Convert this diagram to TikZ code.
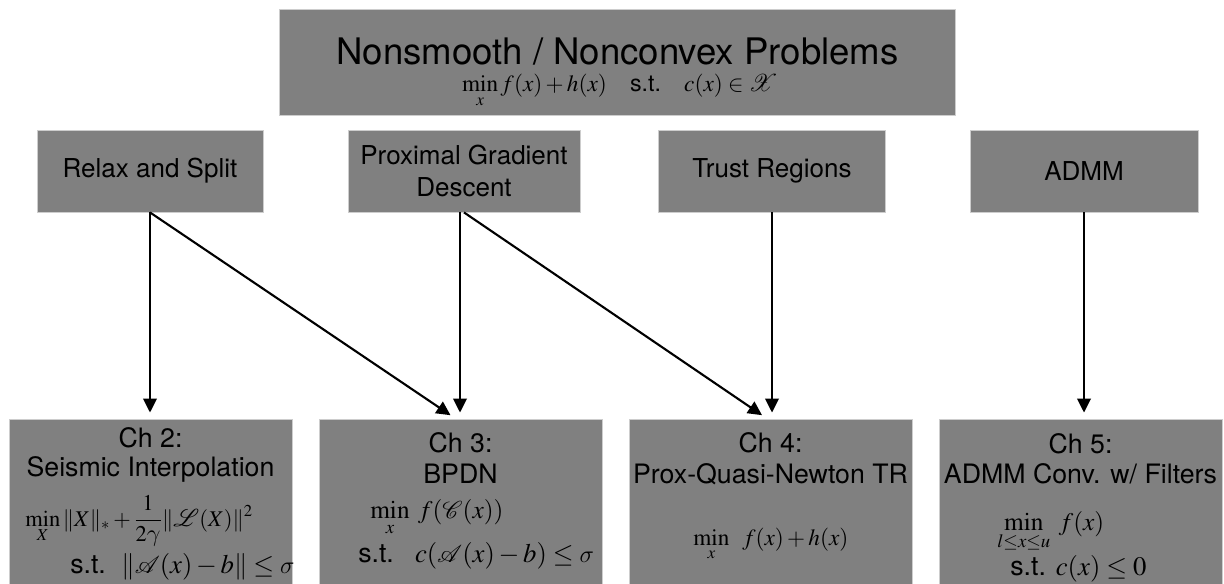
\documentclass[tikz,border=0pt]{standalone}
\usepackage{amsmath}
\usepackage{mathptmx}
\usepackage{mathrsfs}
\usepackage[no-math]{fontspec}
\setmainfont{TeX Gyre Heros}
\usepackage{tikz}
\usetikzlibrary{arrows.meta,positioning,calc}
\definecolor{boxgray}{RGB}{128,128,128}
\definecolor{edgegray}{RGB}{205,205,205}
\DeclareSymbolFont{cmgreek}{OML}{cmm}{m}{it}
\DeclareMathSymbol{\sigma}{\mathord}{cmgreek}{"1B}
\DeclareMathSymbol{\gamma}{\mathord}{cmgreek}{"0D}

\begin{document}
\begin{tikzpicture}[x=0.025cm, y=-0.025cm,
        box/.style={rectangle, draw=edgegray, line width=0.6pt, fill=boxgray, inner sep=0pt},
        topbox/.style={box, minimum width=16.875cm, minimum height=2.65cm},
        midbox/.style={box, minimum height=2.05cm, align=center, font=\fontsize{18.5}{23}\selectfont},
        chbox/.style={box, minimum width=7.075cm, minimum height=4.125cm},
        chtext/.style={anchor=base, inner sep=0pt, font=\fontsize{19}{22}\selectfont},
        eq/.style={anchor=base west, inner sep=0pt, font=\fontsize{18}{21}\selectfont},
        arrow/.style={-{Triangle[length=0.35cm,width=0.34cm]}, line width=1.5pt, shorten >=0.15cm}]

        \useasboundingbox (0,0) rectangle (1224,584);

        % top problem
        \node[topbox] (top) at (617.5,62) {};
        \node[anchor=base, inner sep=0pt, font=\fontsize{26}{30}\selectfont] (toptitle) at (617.5,65) {Nonsmooth / Nonconvex Problems};
        \node[anchor=base, inner sep=0pt, font=\fontsize{16.5}{20}\selectfont] (topeq) at (620,92)
            {$\displaystyle\min_x f(x)+h(x)\quad\text{s.t.}\quad c(x)\in\mathscr{X}$};

        % methods
        \node[midbox, minimum width=5.65cm] (relax) at (150,171) {Relax and Split};
        \node[midbox, minimum width=5.8cm] (prox) at (464,171) {Proximal Gradient\\Descent};
        \node[midbox, minimum width=5.675cm] (trust) at (772,171) {Trust Regions};
        \node[midbox, minimum width=5.7cm] (admm) at (1084,171) {ADMM};

        % chapters
        \node[chbox] (ch2) at (150.5,501.5) {};
        \node[chbox] (ch3) at (460.5,501.5) {};
        \node[chbox] (ch4) at (770.5,501.5) {};
        \node[chbox] (ch5) at (1080.5,501.5) {};

        \node[chtext] (ch2a) at (150.5,447) {Ch 2:};
        \node[chtext] (ch2b) at (150.5,476) {Seismic Interpolation};
        \node[eq, font=\fontsize{16}{19}\selectfont] (ch2min) at (25,526) {$\displaystyle\min_X \|X\|_* + \frac{1}{2\gamma}\|\mathscr{L}(X)\|^2$};
        \node[eq, font=\fontsize{17}{20}\selectfont] (ch2st) at (70,573) {\fontsize{19}{22}\selectfont s.t.\hspace{11pt}$\|\mathscr{A}(x)-b\|\le\sigma$};

        \node[chtext] (ch3a) at (460.5,452) {Ch 3:};
        \node[chtext] (ch3b) at (460.5,483) {BPDN};
        \node[eq] (ch3min) at (370,518) {$\displaystyle\min_x\; f(\mathscr{C}(x))$};
        \node[eq] (ch3st) at (358,562) {\fontsize{19}{22}\selectfont s.t.\hspace{15pt}$c(\mathscr{A}(x)-b)\le\sigma$};

        \node[chtext] (ch4a) at (770.5,452) {Ch 4:};
        \node[chtext] (ch4b) at (770.5,483) {Prox-Quasi-Newton TR};
        \node[eq, font=\fontsize{16.5}{20}\selectfont] (ch4min) at (693,545) {$\displaystyle\min_x\;\; f(x)+h(x)$};

        \node[chtext] (ch5a) at (1080.5,453) {Ch 5:};
        \node[chtext] (ch5b) at (1080.5,483) {ADMM Conv. w/ Filters};
        \node[eq] (ch5min) at (997,530) {$\displaystyle\min_{l\le x\le u}\; f(x)$};
        \node[eq] (ch5st) at (1010,575) {\fontsize{19}{22}\selectfont s.t. $c(x)\le 0$};

        \draw[arrow] (relax.south) -- (relax.south |- ch2.north);
        \draw[arrow] (relax.south) -- ($(ch3.north)+(-5,0)$);
        \draw[arrow] ($(prox.south)+(-4,0)$) -- ($(ch3.north)+(-0.5,0)$);
        \draw[arrow] (prox.south) -- ($(ch4.north)+(-3.5,0)$);
        \draw[arrow] (trust.south) -- (trust.south |- ch4.north);
        \draw[arrow] (admm.south) -- (admm.south |- ch5.north);

    \end{tikzpicture}
\end{document}
